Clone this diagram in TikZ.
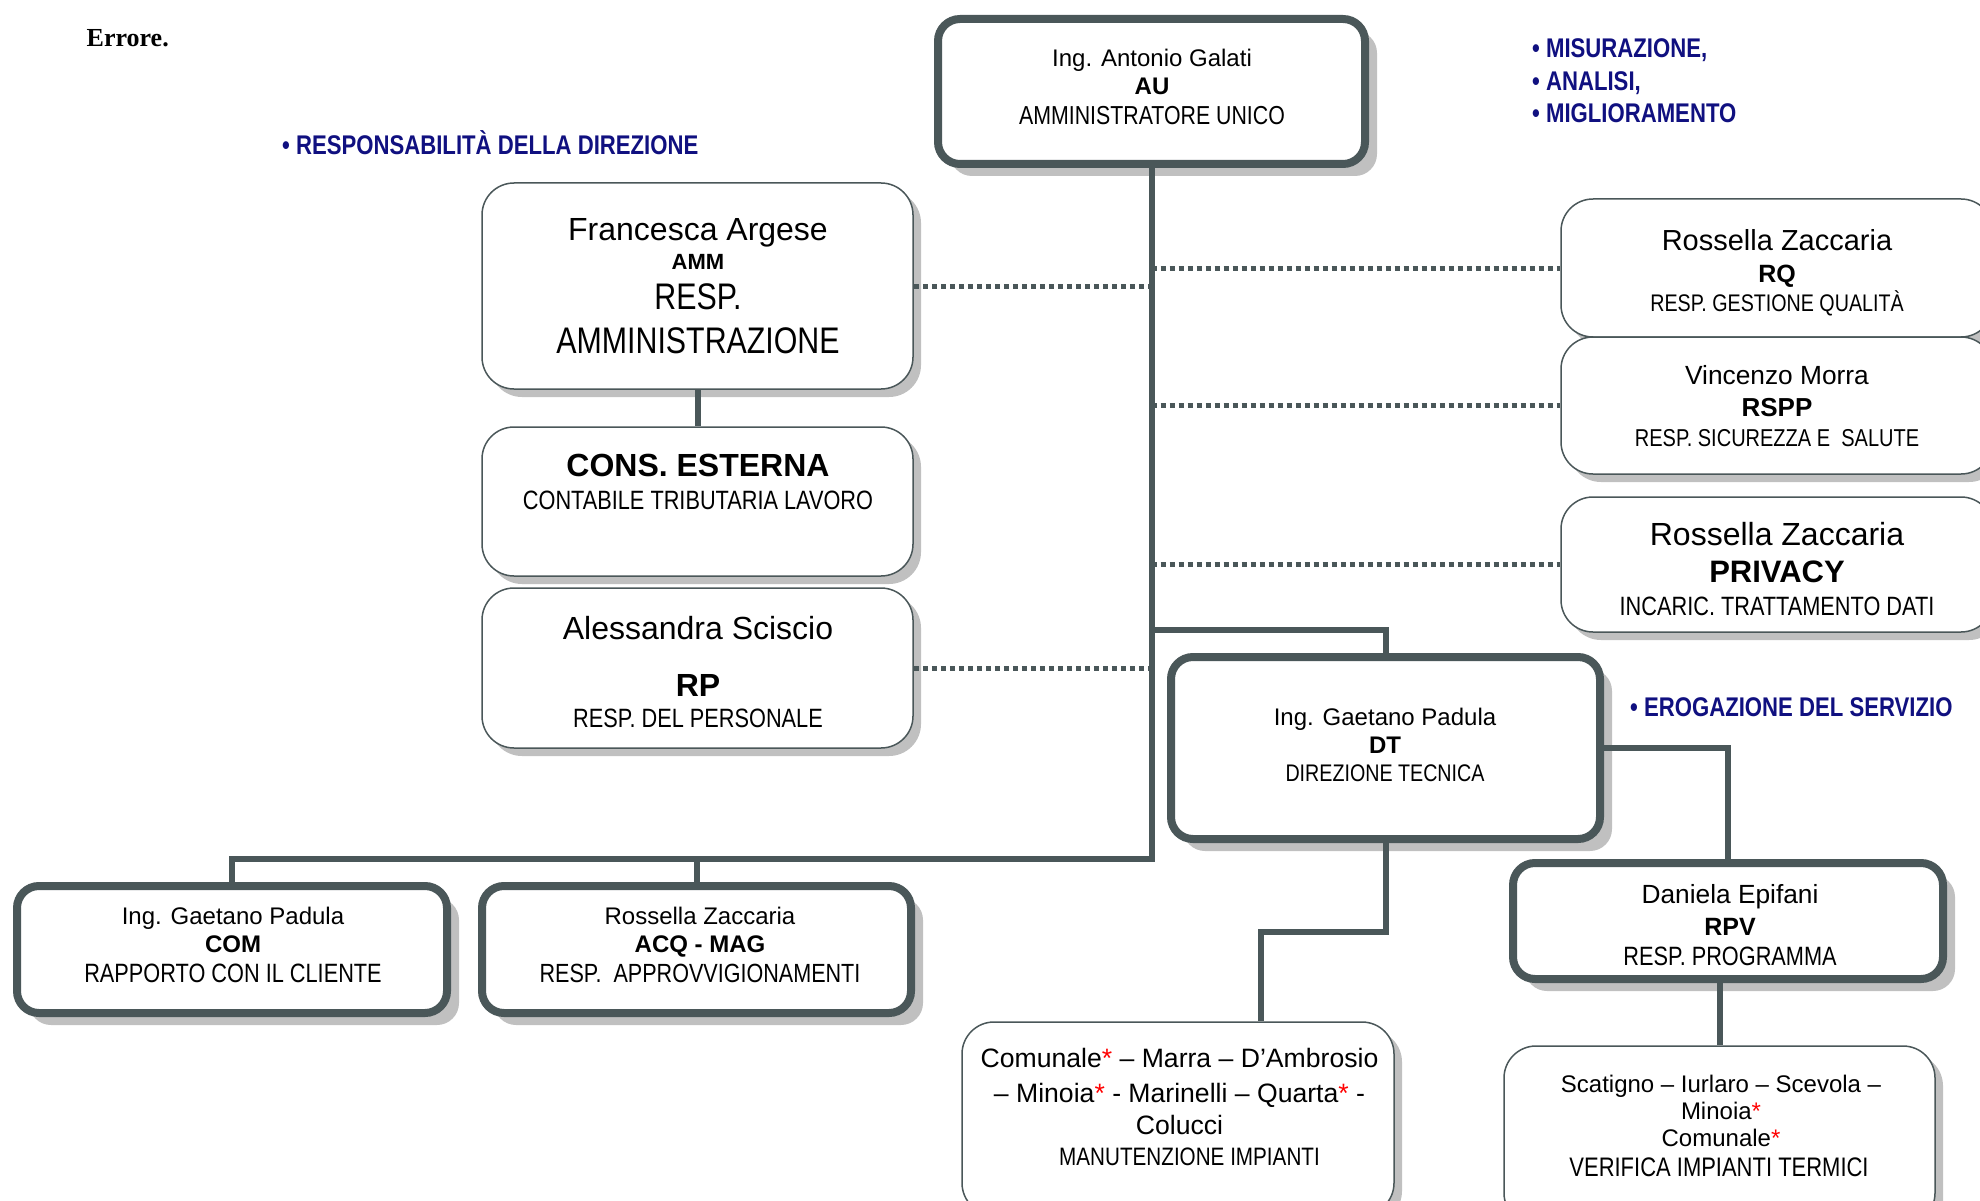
\documentclass[tikz,border=0pt]{standalone}
\usepackage{fontspec}
\setmainfont{Liberation Sans}
\newfontfamily\nar[FakeStretch=0.82]{Liberation Sans}
\newfontfamily\tms{Liberation Serif}
\usetikzlibrary{shadows}
\definecolor{bord}{RGB}{74,87,89}
\definecolor{shad}{RGB}{192,192,192}
\definecolor{navyb}{RGB}{16,16,128}
\newcommand{\fs}[1]{\fontsize{#1}{#1}\selectfont}
\newcommand{\rast}{\textcolor{red}{*}}
\newcommand{\blab}{\nar\bfseries\fs{27}\color{navyb}}
\begin{document}
\begin{tikzpicture}[x=1pt,y=-1pt,
  txt/.style={inner sep=0pt, anchor=base},
  thinbox/.style={draw=bord, line width=1.5pt, fill=white, rounded corners=32pt, inner sep=0pt,
    drop shadow={shadow xshift=8pt, shadow yshift=-8pt, fill=shad, opacity=1}},
  thickbox/.style={draw=bord, line width=8pt, fill=white, rounded corners=22pt, inner sep=0pt,
    drop shadow={shadow xshift=12pt, shadow yshift=-12pt, fill=shad, opacity=1}},
  conn/.style={draw=bord, line width=6pt},
  dotl/.style={draw=bord, line width=5pt, dash pattern=on 5pt off 4pt}]
\fill[white] (0,0) rectangle (1980,1201);
\useasboundingbox (0,0) rectangle (1980,1201);

% boxes
\node[thickbox, minimum width=427pt, minimum height=145pt] (au) at (1151.5,91.5) {};
\node[thinbox, minimum width=431pt, minimum height=206pt] (fr) at (697.5,286) {};
\node[thinbox, minimum width=431pt, minimum height=149pt] (cons) at (697.5,501.5) {};
\node[thinbox, minimum width=431pt, minimum height=160pt] (rp) at (697.5,668) {};
\node[thinbox, minimum width=432pt, minimum height=138pt] (rq) at (1777,268) {};
\node[thinbox, minimum width=432pt, minimum height=137pt] (rspp) at (1777,405.5) {};
\node[thinbox, minimum width=432pt, minimum height=135pt] (priv) at (1777,564.5) {};
\node[thickbox, minimum width=429pt, minimum height=182pt] (dt) at (1385.5,748) {};
\node[thickbox, minimum width=430pt, minimum height=116pt] (rpv) at (1728,921) {};
\node[thickbox, minimum width=430pt, minimum height=127pt] (com) at (232,949.5) {};
\node[thickbox, minimum width=429pt, minimum height=127pt] (acq) at (696.5,949.5) {};
\node[thinbox, minimum width=432pt, minimum height=193pt] (man) at (1178,1118.5) {};
\node[thinbox, minimum width=431pt, minimum height=179pt] (ver) at (1719.5,1135.5) {};

% dotted links
\draw[dotl] (fr.east) -- (fr.east -| au.south);
\draw[dotl] (rp.east) -- (rp.east -| au.south);
\draw[dotl] (rq.west -| au.south) -- (rq.west);
\draw[dotl] (rspp.west -| au.south) -- (rspp.west);
\draw[dotl] (priv.west -| au.south) -- (priv.west);

% solid connectors
\coordinate (hub) at (au.south |- 0,859);
\coordinate (dtj) at (au.south |- 0,630);
\coordinate (mj) at (1261,932);
\draw[conn] (au.south) -- (hub) -| (com.north);
\draw[conn] (hub -| acq.north) -- (acq.north);
\draw[conn] (dtj) -| (dt.north);
\draw[conn] (dt.east) -| (rpv.north);
\draw[conn] (dt.south) |- (mj) -- (mj |- man.north);
\draw[conn] (ver.north |- rpv.south) -- (ver.north);
\draw[conn] (fr.south) -- (cons.north);

% texts
\node[txt, anchor=base west] (err) at (86.5,46.6) {\tms\bfseries\fs{26}Errore.};
\node[txt, anchor=base west] (lb1) at (282,154.7) {\blab • RESPONSABILITÀ DELLA DIREZIONE};
\node[txt, anchor=base west] (lb2) at (1532,57.7) {\blab • MISURAZIONE,};
\node[txt, anchor=base west] (lb3) at (1532,90.7) {\blab • ANALISI,};
\node[txt, anchor=base west] (lb4) at (1532,122.7) {\blab • MIGLIORAMENTO};
\node[txt, anchor=base west] (lb5) at (1630,716.7) {\blab • EROGAZIONE DEL SERVIZIO};

\node[txt] (au1) at (1152,66.6) {\fs{24}Ing. Antonio Galati};
\node[txt] (au2) at (1152,94.6) {\fs{24}\bfseries AU};
\node[txt] (au3) at (1152,124.4) {\nar\fs{26}AMMINISTRATORE UNICO};

\node[txt] (fr1) at (698,240.5) {\fs{32}Francesca Argese};
\node[txt] (fr2) at (698,269) {\fs{22}\bfseries AMM};
\node[txt] (fr3) at (698,309.3) {\nar\fs{37}RESP.};
\node[txt] (fr4) at (698,353.3) {\nar\fs{37}AMMINISTRAZIONE};

\node[txt] (co1) at (698,476.5) {\fs{32}\bfseries CONS. ESTERNA};
\node[txt] (co2) at (698,509.5) {\nar\fs{26.5}CONTABILE TRIBUTARIA LAVORO};

\node[txt] (rp1) at (698,639.5) {\fs{32}Alessandra Sciscio};
\node[txt] (rp2) at (698,696.5) {\fs{32}\bfseries RP};
\node[txt] (rp3) at (698,727.5) {\nar\fs{26.5}RESP. DEL PERSONALE};

\node[txt] (rq1) at (1777,250.4) {\fs{29}Rossella Zaccaria};
\node[txt] (rq2) at (1777,282) {\fs{25}\bfseries RQ};
\node[txt] (rq3) at (1777,311.6) {\nar\fs{24}RESP. GESTIONE QUALITÀ};

\node[txt] (rs1) at (1777,384.5) {\fs{26.3}Vincenzo Morra};
\node[txt] (rs2) at (1777,416.4) {\fs{26}\bfseries RSPP};
\node[txt] (rs3) at (1777,446.8) {\nar\fs{24.4}RESP. SICUREZZA E \ SALUTE};

\node[txt] (pv1) at (1777,545.5) {\fs{32}Rossella Zaccaria};
\node[txt] (pv2) at (1777,582) {\fs{31}\bfseries PRIVACY};
\node[txt] (pv3) at (1777,615.5) {\nar\fs{26.5}INCARIC. TRATTAMENTO DATI};

\node[txt] (dt1) at (1385,725.6) {\fs{24}Ing. Gaetano Padula};
\node[txt] (dt2) at (1385,753.6) {\fs{24}\bfseries DT};
\node[txt] (dt3) at (1385,781.6) {\nar\fs{24}DIREZIONE TECNICA};

\node[txt] (rv1) at (1730,903.5) {\fs{26.3}Daniela Epifani};
\node[txt] (rv2) at (1730,935) {\fs{25}\bfseries RPV};
\node[txt] (rv3) at (1730,965.5) {\nar\fs{26.5}RESP. PROGRAMMA};

\node[txt] (cm1) at (233,924.6) {\fs{24}Ing. Gaetano Padula};
\node[txt] (cm2) at (233,952.6) {\fs{24}\bfseries COM};
\node[txt] (cm3) at (233,982.5) {\nar\fs{26.5}RAPPORTO CON IL CLIENTE};

\node[txt] (aq1) at (700,924.6) {\fs{24}Rossella Zaccaria};
\node[txt] (aq2) at (700,952.6) {\fs{24}\bfseries ACQ - MAG};
\node[txt] (aq3) at (700,982.5) {\nar\fs{26.3}RESP. \ APPROVVIGIONAMENTI};

\node[txt] (mn1) at (1179.5,1067.6) {\fs{26.6}Comunale\rast{} – Marra – D’Ambrosio};
\node[txt] (mn2) at (1179.5,1102.6) {\fs{26.6}– Minoia\rast{} - Marinelli – Quarta\rast{} -};
\node[txt] (mn3) at (1179.5,1134.6) {\fs{26.6}Colucci};
\node[txt] (mn4) at (1189.5,1165) {\nar\fs{25.2}MANUTENZIONE IMPIANTI};

\node[txt] (vr1) at (1721,1092.6) {\fs{24}Scatigno – Iurlaro – Scevola –};
\node[txt] (vr2) at (1721,1119.6) {\fs{24}Minoia\rast};
\node[txt] (vr3) at (1721,1146.6) {\fs{24}Comunale\rast};
\node[txt] (vr4) at (1719,1176.6) {\nar\fs{26.8}VERIFICA IMPIANTI TERMICI};
\end{tikzpicture}
\end{document}
